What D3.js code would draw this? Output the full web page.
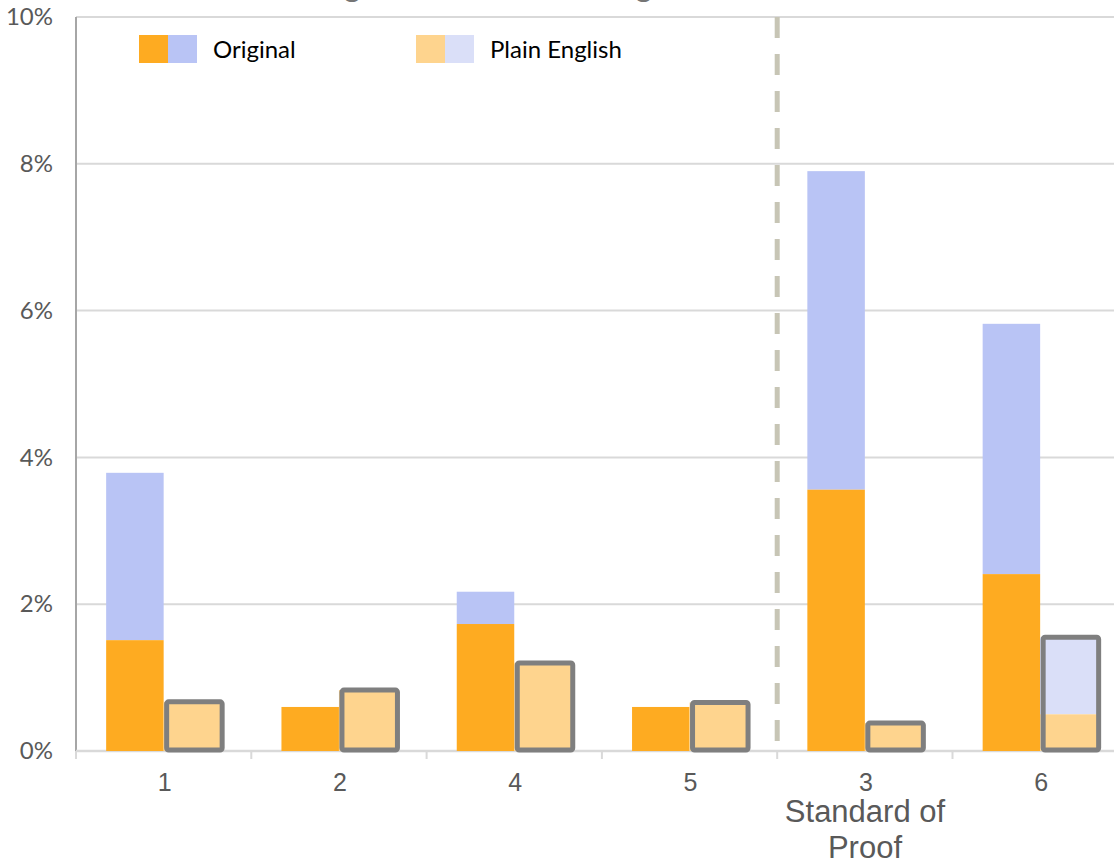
<!DOCTYPE html>
<html>
<head>
<meta charset="utf-8">
<script src="https://cdn.jsdelivr.net/npm/d3@7"></script>
<style>
  html, body { margin: 0; padding: 0; background: #fff; }
  svg { display: block; }
</style>
</head>
<body>
<svg id="chart" width="1114" height="865"></svg>
<script>
// Categories in display order
const categories = ["1", "2", "4", "5", "3", "6"];

// Original wording: lower (orange) segment and total bar height
const originalLower = [0.0151, 0.0060, 0.0173, 0.0060, 0.0356, 0.0241];
const originalTotal = [0.0379, 0.0060, 0.0217, 0.0060, 0.0790, 0.0582];

// Plain English wording: lower (light orange) segment and total bar height
const plainLower = [0.0067, 0.0083, 0.0120, 0.0066, 0.0038, 0.0050];
const plainTotal = [0.0067, 0.0083, 0.0120, 0.0066, 0.0038, 0.0155];

const yTicks = [0, 0.02, 0.04, 0.06, 0.08, 0.10];
const legendItems = ["Original", "Plain English"];

const colors = {
  orange: "#feab21",
  blue: "#b9c4f5",
  lightOrange: "#fed48e",
  lightBlue: "#dadff8",
  grid: "#d9d9d9",
  axis: "#a6a6a6",
  text: "#595959",
  outline: "#7f7f7f",
  divider: "#c7c5b5"
};

const svg = d3.select("#chart");

const plotLeft = 76, plotTop = 17, plotBottom = 751;
const bandW = 175.3;

const x = d3.scaleBand()
  .domain(categories)
  .range([plotLeft, plotLeft + bandW * categories.length])
  .padding(0);

const y = d3.scaleLinear()
  .domain([0, 0.10])
  .range([plotBottom, plotTop]);

const barW = x.bandwidth() * 0.328;
const center = c => x(c) + x.bandwidth() / 2;

// Title (sits mostly above the visible area)
svg.append("text")
  .attr("x", 291)
  .attr("y", -6)
  .attr("font-family", "Liberation Sans, Arial, sans-serif")
  .attr("font-size", 38)
  .attr("fill", "#757575")
  .text("Original vs. Plain English");

// Gridlines
svg.append("g")
  .selectAll("line")
  .data(yTicks.filter(d => d > 0))
  .join("line")
  .attr("x1", plotLeft)
  .attr("x2", 1114)
  .attr("y1", d => y(d))
  .attr("y2", d => y(d))
  .attr("stroke", colors.grid)
  .attr("stroke-width", 2);

// Y axis
const yAxis = d3.axisLeft(y)
  .tickValues(yTicks)
  .tickFormat(d => Math.round(d * 100) + "%")
  .tickSize(0)
  .tickPadding(23);

const yg = svg.append("g")
  .attr("transform", `translate(${plotLeft},0)`)
  .call(yAxis);
yg.select(".domain")
  .attr("stroke", colors.axis)
  .attr("stroke-width", 2)
  .attr("d", `M0,${plotTop}V${plotBottom + 7}`);
yg.selectAll("text")
  .attr("font-family", "Lato, 'Noto Sans', sans-serif")
  .attr("font-size", 24)
  .attr("fill", colors.text);

// X axis with boundary ticks
const xg = svg.append("g")
  .attr("transform", `translate(0,${plotBottom})`);
xg.append("line")
  .attr("x1", plotLeft)
  .attr("x2", 1114)
  .attr("stroke", colors.grid)
  .attr("stroke-width", 2.5);
xg.selectAll("line.tick")
  .data(categories)
  .join("line")
  .attr("class", "tick")
  .attr("x1", d => x(d))
  .attr("x2", d => x(d))
  .attr("y1", 0)
  .attr("y2", 8)
  .attr("stroke", colors.grid)
  .attr("stroke-width", 2);
xg.selectAll("text")
  .data(categories)
  .join("text")
  .attr("x", d => center(d) + 1)
  .attr("y", 40)
  .attr("text-anchor", "middle")
  .attr("font-family", "Liberation Sans, Arial, sans-serif")
  .attr("font-size", 25)
  .attr("fill", colors.text)
  .text(d => d);

// Group label under the right-hand section
const groupLabel = svg.append("text")
  .attr("text-anchor", "middle")
  .attr("font-family", "Liberation Sans, Arial, sans-serif")
  .attr("font-size", 31)
  .attr("fill", colors.text);
groupLabel.append("tspan").attr("x", 865).attr("y", 822).text("Standard of");
groupLabel.append("tspan").attr("x", 865).attr("y", 858).text("Proof");

// Original bars: stacked orange + blue
const orig = svg.append("g");
categories.forEach((c, i) => {
  const x0 = center(c) - barW;
  orig.append("rect")
    .attr("x", x0).attr("width", barW)
    .attr("y", y(originalTotal[i]))
    .attr("height", y(originalLower[i]) - y(originalTotal[i]))
    .attr("fill", colors.blue);
  orig.append("rect")
    .attr("x", x0).attr("width", barW)
    .attr("y", y(originalLower[i]))
    .attr("height", y(0) - y(originalLower[i]))
    .attr("fill", colors.orange);
});

// Plain English bars: stacked light orange + light blue, outlined
const plain = svg.append("g");
categories.forEach((c, i) => {
  const x0 = center(c);
  plain.append("rect")
    .attr("x", x0).attr("width", barW)
    .attr("y", y(plainTotal[i]))
    .attr("height", y(plainLower[i]) - y(plainTotal[i]))
    .attr("fill", colors.lightBlue);
  plain.append("rect")
    .attr("x", x0).attr("width", barW)
    .attr("y", y(plainLower[i]))
    .attr("height", y(0) - y(plainLower[i]))
    .attr("fill", colors.lightOrange);
  plain.append("rect")
    .attr("x", x0 + 3).attr("width", barW - 2)
    .attr("y", y(plainTotal[i]))
    .attr("height", y(0) - y(plainTotal[i]) - 1)
    .attr("rx", 2)
    .attr("fill", "none")
    .attr("stroke", colors.outline)
    .attr("stroke-width", 5);
});

// Divider between the two groups of categories
svg.append("line")
  .attr("x1", x("3")).attr("x2", x("3"))
  .attr("y1", plotTop).attr("y2", plotBottom - 4)
  .attr("stroke", colors.divider)
  .attr("stroke-width", 5)
  .attr("stroke-dasharray", "21,16");

// Legend
const legend = svg.append("g");
const legendPos = [
  { x: 139, c1: colors.orange, c2: colors.blue, tx: 213 },
  { x: 416, c1: colors.lightOrange, c2: colors.lightBlue, tx: 490 }
];
legendItems.forEach((label, i) => {
  const p = legendPos[i];
  legend.append("rect").attr("x", p.x).attr("y", 35).attr("width", 29).attr("height", 28).attr("fill", p.c1);
  legend.append("rect").attr("x", p.x + 29).attr("y", 35).attr("width", 29).attr("height", 28).attr("fill", p.c2);
  legend.append("text")
    .attr("x", p.tx).attr("y", 58)
    .attr("font-family", "Lato, 'Noto Sans', sans-serif")
    .attr("font-size", 24)
    .attr("fill", "#000")
    .text(label);
});
</script>
</body>
</html>
